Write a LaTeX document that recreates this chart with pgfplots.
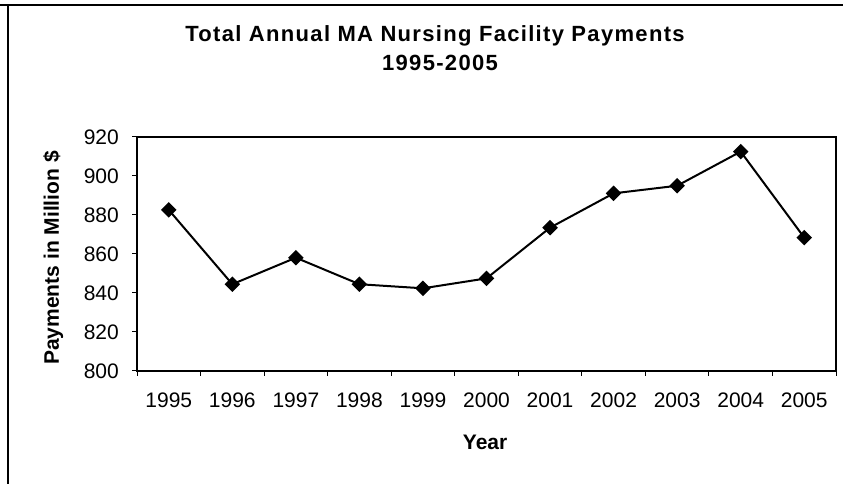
\documentclass[border=0pt]{standalone}
\usepackage{fontspec}
\setmainfont{Liberation Sans}
\usepackage{pgfplots}
\pgfplotsset{compat=1.18}
\newcommand{\chfont}{\fontsize{21bp}{25bp}\selectfont}
\newcommand{\ttlfont}{\fontsize{22bp}{26bp}\selectfont\bfseries\addfontfeatures{LetterSpace=6}}
\begin{document}
\begin{tikzpicture}[x=1bp,y=1bp]
\useasboundingbox (0,0) rectangle (843,484);
\draw[line width=1.2bp] (0,479) -- (843,479);
\draw[line width=1.2bp] (8,0) -- (8,479);
\begin{axis}[
  at={(137bp,113bp)}, anchor=south west,
  scale only axis, width=699bp, height=234bp,
  xmin=-0.5, xmax=10.5, ymin=800, ymax=920,
  xtick={0,1,2,3,4,5,6,7,8,9,10},
  xticklabels={1995,1996,1997,1998,1999,2000,2001,2002,2003,2004,2005},
  major x tick style={draw=none},
  minor xtick={-0.5,0.5,1.5,2.5,3.5,4.5,5.5,6.5,7.5,8.5,9.5,10.5},
  ytick={800,820,840,860,880,900,920},
  tick align=outside, tick pos=left,
  major tick length=5bp, minor tick length=5bp,
  axis line style={line width=1.3bp},
  every tick/.append style={black, line width=1bp},
  /pgf/number format/assume math mode=true,
  ticklabel style={font=\chfont, inner sep=0pt},
  yticklabel style={anchor=east, xshift=-13bp},
  xticklabel style={anchor=base, yshift=-32bp},
  xlabel={\textbf{Year}},
  xlabel style={font=\chfont, at={(axis description cs:0.498,-0.3376)}, anchor=base, inner sep=0pt},
  ylabel={\textbf{Payments in Million \$}},
  ylabel style={font=\chfont, at={(axis description cs:-0.1116,0.483)}, anchor=base, inner sep=0pt},
  clip=false,
]
\addplot[black, line width=2bp, mark=square*, mark size=4.5bp, mark options={rotate=45, fill=black}]
coordinates {
(0,882.6) (1,844.5) (2,858.1) (3,844.5) (4,842.4) (5,847.5)
(6,873.5) (7,891.1) (8,895) (9,912.5) (10,868.4)
};
\end{axis}
\node[anchor=base, inner sep=0pt, font=\ttlfont] at (435,442) {Total Annual MA Nursing Facility Payments};
\node[anchor=base, inner sep=0pt, font=\ttlfont] at (440,413) {1995-2005};
\end{tikzpicture}
\end{document}
